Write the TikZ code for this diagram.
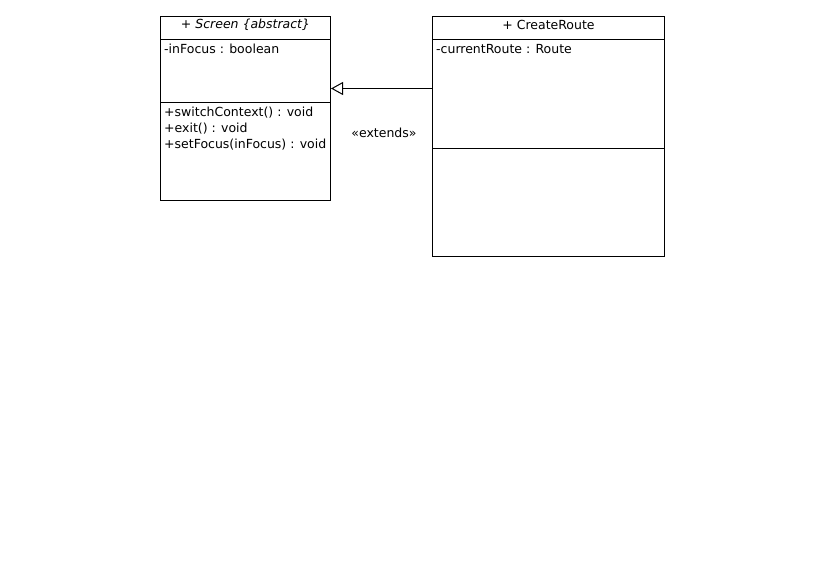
\documentclass[tikz,border=0pt]{standalone}
\usepackage{fontspec}
\setmainfont{DejaVu Sans}
\usetikzlibrary{arrows.meta}
\tikzset{
  classbox/.style={draw=black, line width=1pt, fill=white, rectangle, inner sep=0pt},
  divider/.style={draw=black, line width=1pt},
  member/.style={anchor=west, inner sep=0pt, font=\fontsize{12.5}{14}\selectfont},
  title/.style={anchor=center, inner sep=0pt, font=\fontsize{12.5}{14}\selectfont},
  gen/.style={draw=black, line width=1pt, -{Triangle[open,length=12pt,width=13pt,line width=1pt]}},
}
\begin{document}
\begin{tikzpicture}[x=1pt,y=-1pt]
\useasboundingbox (0,0) rectangle (824,560);
% Screen class
\node[classbox, minimum width=170pt, minimum height=184pt] (screen) at (245.5,108) {};
\draw[divider] (160.5,39.5) -- (330.5,39.5);
\draw[divider] (160.5,102.5) -- (330.5,102.5);
\node[title] (screentitle) at (245.5,24.5) {+ \textit{Screen \{abstract\}}};
\node[member] (screenattr) at (164,49) {-inFocus : boolean};
\node[member] (m1) at (164,113) {+switchContext() : void};
\node[member] (m2) at (164,129) {+exit() : void};
\node[member] (m3) at (164,145) {+setFocus(inFocus) : void};
% CreateRoute class
\node[classbox, minimum width=232pt, minimum height=240pt] (route) at (548.5,136) {};
\draw[divider] (432.5,39.5) -- (664.5,39.5);
\draw[divider] (432.5,148.5) -- (664.5,148.5);
\node[title] (routetitle) at (548.5,24.5) {+ CreateRoute};
\node[member] (routeattr) at (436,49) {-currentRoute : Route};
% generalization
\coordinate (gsrc) at (route.west |- 0,88.5);
\coordinate (gdst) at (screen.east |- 0,88.5);
\draw[gen] (gsrc) -- (gdst);
\node[title] (ext) at (384,133) {«extends»};
\end{tikzpicture}
\end{document}
